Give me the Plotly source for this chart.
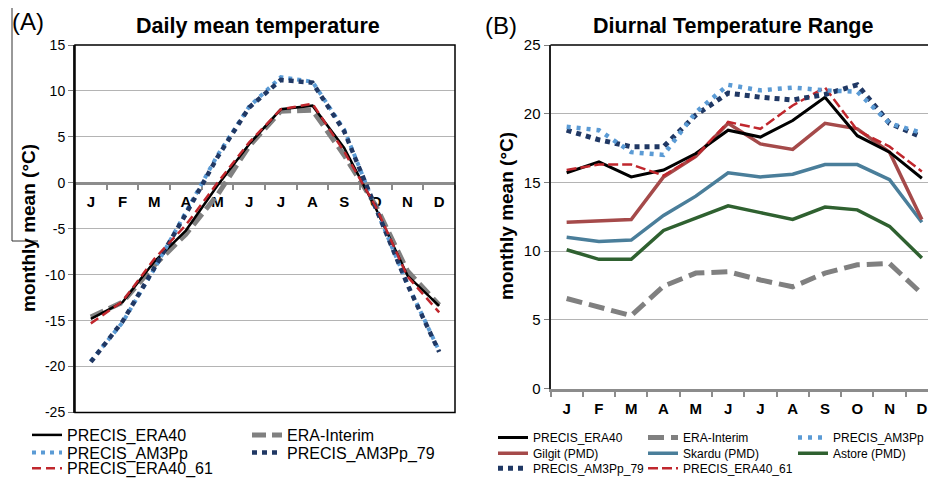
import plotly.graph_objects as go

W, H = 928, 478
FONT = "Liberation Sans, Arial, sans-serif"

month_ids = ["Jan", "Feb", "Mar", "Apr", "May", "Jun", "Jul", "Aug", "Sep", "Oct", "Nov", "Dec"]
month_labels = ["J", "F", "M", "A", "M", "J", "J", "A", "S", "O", "N", "D"]

# Panel A: daily mean temperature (°C)
a_ticks = [-25, -20, -15, -10, -5, 0, 5, 10, 15]
a_ticktext = ["-25", "-20", "-15", "-10", "-5", "0", "5", "10", "15"]
a_precis_era40 = [-14.8, -13.0, -8.6, -5.2, -0.3, 4.2, 8.0, 8.4, 3.8, -2.8, -10.1, -13.4]
a_era_interim = [-14.6, -13.0, -9.0, -5.6, -1.3, 4.0, 7.8, 7.9, 3.0, -2.5, -9.6, -13.3]
a_precis_am3pp = [-19.4, -15.2, -9.4, -3.2, 3.0, 8.3, 11.5, 11.0, 5.8, -2.8, -11.0, -18.3]
a_precis_am3pp_79 = [-19.5, -15.1, -9.3, -3.4, 2.8, 8.2, 11.2, 10.9, 5.6, -2.9, -11.1, -18.4]
a_precis_era40_61 = [-15.3, -12.9, -8.3, -4.6, 0.0, 4.4, 8.0, 8.6, 3.4, -2.6, -10.2, -14.1]

# Panel B: diurnal temperature range (°C)
b_ticks = [0, 5, 10, 15, 20, 25]
b_precis_era40 = [15.7, 16.5, 15.4, 15.9, 17.1, 18.8, 18.3, 19.5, 21.2, 18.4, 17.2, 15.3]
b_era_interim = [6.55, 5.9, 5.3, 7.45, 8.4, 8.5, 7.9, 7.4, 8.4, 9.0, 9.1, 6.9]
b_precis_am3pp = [19.05, 18.8, 17.2, 17.0, 20.1, 22.1, 21.7, 21.9, 21.7, 21.6, 19.3, 18.6]
b_gilgit = [12.1, 12.2, 12.3, 15.4, 16.9, 19.3, 17.8, 17.4, 19.3, 18.9, 17.2, 12.3]
b_skardu = [11.0, 10.7, 10.8, 12.6, 14.0, 15.7, 15.4, 15.6, 16.3, 16.3, 15.2, 12.1]
b_astore = [10.1, 9.4, 9.4, 11.5, 12.4, 13.3, 12.8, 12.3, 13.2, 13.0, 11.8, 9.5]
b_precis_am3pp_79 = [18.8, 18.1, 17.6, 17.6, 19.9, 21.5, 21.2, 21.0, 21.4, 22.1, 19.3, 18.3]
b_precis_era40_61 = [15.9, 16.3, 16.3, 15.5, 16.9, 19.4, 18.9, 20.6, 21.9, 18.8, 17.6, 15.8]

C_BLACK = "#000000"
C_GRAY = "#808080"
C_LBLUE = "#5b9bd5"
C_NAVY = "#203864"
C_RED = "#c0272d"
C_GILGIT = "#a54a4a"
C_SKARDU = "#4a7e9a"
C_ASTORE = "#2f6130"

fig = go.Figure()


def add(x, y, name, color, width, dash, legend, rank, xa, ya, lw=None):
    fig.add_trace(go.Scatter(
        x=x, y=y, name=name, mode="lines",
        line=dict(color=color, width=width, dash=dash),
        legend=legend, legendrank=rank, legendwidth=lw, xaxis=xa, yaxis=ya,
        hoverinfo="skip"))


# Panel A (drawing order bottom -> top)
add(month_ids, a_era_interim, "ERA-Interim", C_GRAY, 5, "14px,6px", "legend", 2, "x", "y")
add(month_ids, a_precis_era40, "PRECIS_ERA40", C_BLACK, 2.5, "solid", "legend", 1, "x", "y")
add(month_ids, a_precis_am3pp, "PRECIS_AM3Pp", C_LBLUE, 4, "4px,5px", "legend2", 1, "x", "y")
add(month_ids, a_precis_am3pp_79, "PRECIS_AM3Pp_79", C_NAVY, 4.5, "5px,5px", "legend2", 2, "x", "y")
add(month_ids, a_precis_era40_61, "PRECIS_ERA40_61", C_RED, 2.5, "9px,5px", "legend3", 1, "x", "y")

# Panel B
add(month_ids, b_era_interim, "ERA-Interim", C_GRAY, 5, "16px,7px", "legend4", 2, "x2", "y2")
add(month_ids, b_astore, "Astore (PMD)", C_ASTORE, 3.5, "solid", "legend5", 3, "x2", "y2")
add(month_ids, b_skardu, "Skardu (PMD)", C_SKARDU, 3.5, "solid", "legend5", 2, "x2", "y2")
add(month_ids, b_gilgit, "Gilgit (PMD)", C_GILGIT, 3.5, "solid", "legend5", 1, "x2", "y2")
add(month_ids, b_precis_era40, "PRECIS_ERA40", C_BLACK, 3, "solid", "legend4", 1, "x2", "y2")
add(month_ids, b_precis_era40_61, "PRECIS_ERA40_61", C_RED, 2.5, "10px,4px", "legend6", 2, "x2", "y2", 125)
add(month_ids, b_precis_am3pp_79, "PRECIS_AM3Pp_79", C_NAVY, 5, "5px,5px", "legend6", 1, "x2", "y2")
add(month_ids, b_precis_am3pp, "PRECIS_AM3Pp", C_LBLUE, 4.5, "4px,6px", "legend4", 3, "x2", "y2")


def px2x(p):
    return p / W


def px2y(p):
    return 1 - p / H


A_DOM_X = [px2x(75), px2x(455)]
A_DOM_Y = [px2y(412.5), px2y(45)]
B_DOM_X = [px2x(550.5), 1.0]
B_DOM_Y = [px2y(388.5), px2y(45)]
a_zero_pos = A_DOM_Y[0] + (0 - (-25)) / 40 * (A_DOM_Y[1] - A_DOM_Y[0])

xaxis_common = dict(
    type="category", tickmode="array", tickvals=month_ids, ticktext=month_labels,
    tickson="boundaries", ticks="outside", ticklen=5, tickwidth=2, tickcolor="#8c8c8c",
    showline=True, linecolor="#8c8c8c", linewidth=3, showgrid=False, zeroline=False,
    ticklabelstandoff=4,
    tickfont=dict(family=FONT, size=15, color="#000", weight="bold"), layer="below traces",
)
yaxis_common = dict(
    tickmode="array", ticks="outside", ticklen=5, tickwidth=1, tickcolor="#808080",
    showline=True, linecolor="#222", linewidth=2, showgrid=True, gridcolor="#b4b4b4",
    gridwidth=1, zeroline=False, tickfont=dict(family=FONT, size=14, color="#000"),
)

fig.update_layout(
    width=W, height=H, margin=dict(l=0, r=0, t=0, b=0, autoexpand=False),
    paper_bgcolor="white", plot_bgcolor="white",
    font=dict(family=FONT, color="#000"),
    xaxis=dict(domain=A_DOM_X, range=[-0.5, 11.5], anchor="free", position=a_zero_pos, **xaxis_common),
    yaxis=dict(domain=A_DOM_Y, range=[-25, 15], anchor="x", tickvals=a_ticks, ticktext=a_ticktext, **yaxis_common),
    xaxis2=dict(domain=B_DOM_X, range=[-0.5, 11.19], anchor="y2", **xaxis_common),
    yaxis2=dict(domain=B_DOM_Y, range=[0, 25], anchor="x2", tickvals=b_ticks,
                **{**yaxis_common, "tickfont": dict(family=FONT, size=15, color="#000")}),
)

leg_common = dict(orientation="h", xanchor="left", yanchor="middle", bgcolor="rgba(0,0,0,0)",
                  entrywidthmode="pixels", traceorder="normal")
fig.update_layout(
    legend=dict(x=px2x(27), y=px2y(435), entrywidth=175, font=dict(family=FONT, size=16), **leg_common),
    legend2=dict(x=px2x(27), y=px2y(452.7), entrywidth=175, font=dict(family=FONT, size=16), **leg_common),
    legend3=dict(x=px2x(27), y=px2y(468.3), entrywidth=175, font=dict(family=FONT, size=16), **leg_common),
    legend4=dict(x=px2x(493), y=px2y(437.5), entrywidth=105, font=dict(family=FONT, size=12), **leg_common),
    legend5=dict(x=px2x(493), y=px2y(453.3), entrywidth=105, font=dict(family=FONT, size=12), **leg_common),
    legend6=dict(x=px2x(493), y=px2y(468.3), entrywidth=105, font=dict(family=FONT, size=12), **leg_common),
)

shapes = [
    dict(type="rect", xref="x domain", yref="y domain", x0=0, x1=1, y0=0, y1=1,
         line=dict(color="#000", width=1.5), layer="above"),
    dict(type="line", xref="x2 domain", yref="y2 domain", x0=0, x1=1, y0=1, y1=1,
         line=dict(color="#000", width=1.5), layer="above"),
    dict(type="line", xref="paper", yref="paper", x0=px2x(12), x1=px2x(12), y0=px2y(8), y1=px2y(241),
         line=dict(color="#333", width=1)),
    dict(type="line", xref="paper", yref="paper", x0=px2x(12), x1=px2x(38), y0=px2y(241), y1=px2y(241),
         line=dict(color="#333", width=1)),
]
fig.update_layout(shapes=shapes)

annotations = [
    dict(text="(A)", x=px2x(27.5), y=px2y(22), font=dict(family=FONT, size=24)),
    dict(text="(B)", x=px2x(501), y=px2y(25), font=dict(family=FONT, size=24)),
    dict(text="<b>Daily mean temperature</b>", x=px2x(258), y=px2y(26), font=dict(family=FONT, size=21.5)),
    dict(text="<b>Diurnal Temperature Range</b>", x=px2x(732.5), y=px2y(26), font=dict(family=FONT, size=21.5)),
    dict(text="<b>monthly mean (°C)</b>", x=px2x(28), y=px2y(228), textangle=-90, font=dict(family=FONT, size=19)),
    dict(text="<b>monthly mean (°C)</b>", x=px2x(506), y=px2y(216), textangle=-90, font=dict(family=FONT, size=19)),
]
for a in annotations:
    a.update(xref="paper", yref="paper", showarrow=False, xanchor="center", yanchor="middle")
fig.update_layout(annotations=annotations)

fig.write_html("out.html")
